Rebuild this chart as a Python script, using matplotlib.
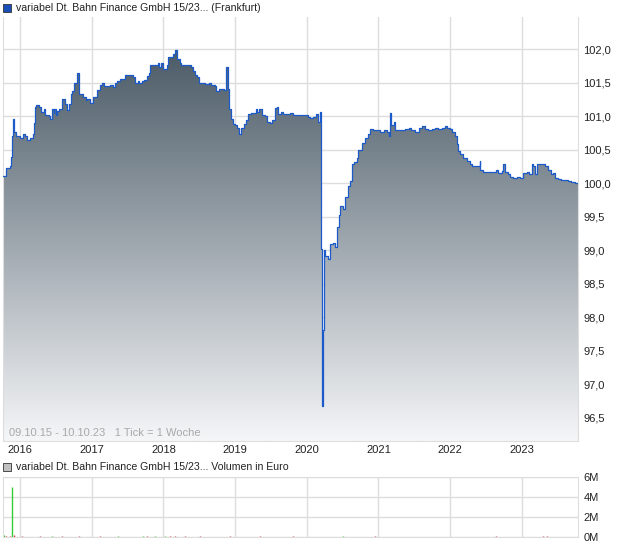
import numpy as np
import matplotlib
matplotlib.use("Agg")
import matplotlib.pyplot as plt
from matplotlib.colors import LinearSegmentedColormap
from matplotlib.patches import Rectangle

plt.rcParams["font.family"] = ["Liberation Sans", "DejaVu Sans"]
plt.rcParams["font.size"] = 8

# weekly close prices (decimal year, price)
years = [
    2015.77, 2015.81, 2015.86, 2015.87, 2015.89, 2015.90, 2015.92, 2015.95,
    2016.00, 2016.04, 2016.07, 2016.10, 2016.14, 2016.18, 2016.20, 2016.21,
    2016.23, 2016.27, 2016.29, 2016.33, 2016.35, 2016.40, 2016.42, 2016.44,
    2016.47, 2016.48, 2016.50, 2016.52, 2016.55, 2016.58, 2016.60, 2016.63,
    2016.66, 2016.69, 2016.71, 2016.73, 2016.75, 2016.78, 2016.80, 2016.82,
    2016.83, 2016.86, 2016.88, 2016.92, 2016.94, 2016.97, 2017.00, 2017.02,
    2017.07, 2017.12, 2017.14, 2017.17, 2017.21, 2017.26, 2017.30, 2017.33,
    2017.36, 2017.39, 2017.43, 2017.47, 2017.51, 2017.56, 2017.58, 2017.61,
    2017.64, 2017.66, 2017.70, 2017.73, 2017.77, 2017.80, 2017.82, 2017.86,
    2017.90, 2017.92, 2017.94, 2017.96, 2017.99, 2018.02, 2018.05, 2018.07,
    2018.10, 2018.13, 2018.14, 2018.16, 2018.19, 2018.21, 2018.23, 2018.25,
    2018.29, 2018.32, 2018.36, 2018.39, 2018.42, 2018.44, 2018.47, 2018.50,
    2018.53, 2018.58, 2018.63, 2018.67, 2018.72, 2018.74, 2018.77, 2018.80,
    2018.84, 2018.87, 2018.88, 2018.90, 2018.91, 2018.94, 2018.97, 2019.00,
    2019.03, 2019.06, 2019.08, 2019.12, 2019.15, 2019.18, 2019.22, 2019.25,
    2019.29, 2019.31, 2019.34, 2019.37, 2019.42, 2019.45, 2019.49, 2019.52,
    2019.56, 2019.58, 2019.60, 2019.64, 2019.67, 2019.72, 2019.76, 2019.81,
    2019.88, 2019.95, 2020.02, 2020.05, 2020.09, 2020.13, 2020.16, 2020.18,
    2020.19, 2020.20, 2020.21, 2020.225, 2020.23, 2020.24, 2020.26, 2020.30,
    2020.32, 2020.37, 2020.39, 2020.42, 2020.45, 2020.47, 2020.51, 2020.53,
    2020.57, 2020.60, 2020.63, 2020.66, 2020.70, 2020.72, 2020.77, 2020.81,
    2020.86, 2020.88, 2020.93, 2020.97, 2021.02, 2021.07, 2021.12, 2021.14,
    2021.16, 2021.18, 2021.21, 2021.23, 2021.28, 2021.32, 2021.37, 2021.42,
    2021.46, 2021.51, 2021.56, 2021.60, 2021.65, 2021.69, 2021.74, 2021.79,
    2021.83, 2021.88, 2021.93, 2021.96, 2022.00, 2022.03, 2022.07, 2022.09,
    2022.11, 2022.14, 2022.18, 2022.23, 2022.28, 2022.31, 2022.35, 2022.38,
    2022.41, 2022.42, 2022.46, 2022.51, 2022.56, 2022.60, 2022.64, 2022.67,
    2022.72, 2022.74, 2022.76, 2022.80, 2022.83, 2022.88, 2022.93, 2022.97,
    2023.02, 2023.07, 2023.10, 2023.14, 2023.16, 2023.18, 2023.21, 2023.24,
    2023.28, 2023.32, 2023.37, 2023.40, 2023.43, 2023.46, 2023.51, 2023.55,
    2023.60, 2023.65, 2023.69, 2023.74, 2023.78,
]
prices = [
    100.10, 100.23, 100.25, 100.39, 100.71, 100.95, 100.76, 100.71,
    100.67, 100.74, 100.71, 100.64, 100.67, 100.73, 100.89, 101.14,
    101.17, 101.14, 101.06, 101.11, 101.02, 101.00, 100.95, 101.11,
    101.05, 101.11, 101.01, 101.07, 101.11, 101.26, 101.26, 101.18,
    101.09, 101.18, 101.33, 101.38, 101.49, 101.50, 101.65, 101.49,
    101.33, 101.33, 101.29, 101.24, 101.26, 101.20, 101.20, 101.29,
    101.39, 101.47, 101.49, 101.45, 101.45, 101.47, 101.44, 101.49,
    101.53, 101.56, 101.56, 101.62, 101.62, 101.62, 101.59, 101.49,
    101.53, 101.49, 101.52, 101.54, 101.60, 101.65, 101.76, 101.76,
    101.76, 101.79, 101.73, 101.80, 101.70, 101.70, 101.76, 101.88,
    101.88, 101.91, 101.93, 101.98, 101.86, 101.85, 101.79, 101.76,
    101.76, 101.76, 101.76, 101.74, 101.67, 101.62, 101.58, 101.50,
    101.49, 101.48, 101.49, 101.47, 101.45, 101.38, 101.41, 101.41,
    101.39, 101.39, 101.74, 101.41, 101.11, 100.95, 100.88, 100.86,
    100.82, 100.73, 100.82, 100.88, 100.94, 101.03, 101.05, 101.05,
    101.11, 101.06, 101.11, 101.01, 101.00, 100.91, 100.89, 100.94,
    101.12, 101.14, 101.03, 101.06, 101.03, 101.03, 101.05, 101.02,
    101.02, 101.01, 100.98, 100.97, 100.98, 101.03, 100.91, 101.02,
    101.06, 99.02, 96.68, 96.68, 97.80, 99.00, 98.91, 98.86,
    99.09, 99.10, 99.05, 99.35, 99.52, 99.66, 99.62, 99.80,
    99.95, 100.03, 100.28, 100.32, 100.38, 100.50, 100.60, 100.68,
    100.73, 100.81, 100.79, 100.79, 100.77, 100.79, 100.77, 100.71,
    101.04, 100.86, 100.91, 100.79, 100.79, 100.79, 100.81, 100.83,
    100.79, 100.77, 100.82, 100.85, 100.81, 100.79, 100.81, 100.83,
    100.81, 100.83, 100.85, 100.82, 100.81, 100.76, 100.71, 100.58,
    100.48, 100.43, 100.38, 100.33, 100.28, 100.25, 100.26, 100.25,
    100.33, 100.20, 100.17, 100.17, 100.17, 100.17, 100.20, 100.15,
    100.18, 100.28, 100.17, 100.14, 100.09, 100.08, 100.09, 100.08,
    100.15, 100.17, 100.14, 100.29, 100.25, 100.13, 100.29, 100.28,
    100.29, 100.25, 100.20, 100.14, 100.15, 100.08, 100.06, 100.05,
    100.04, 100.03, 100.01, 100.00, 100.00,
]

# volume in euro (decimal year, value, up/down)
vol_years = [2015.78, 2015.80, 2015.86, 2015.89, 2015.92, 2016.03, 2016.28,
             2016.45, 2016.59, 2016.82, 2017.12, 2017.37, 2017.72, 2017.77,
             2017.88, 2018.02, 2018.09, 2018.16, 2018.30, 2018.51, 2018.93,
             2019.35, 2019.81, 2020.50, 2020.95, 2022.64, 2023.29, 2023.35]
vol_values = [150e3, 120e3, 100e3, 5.0e6, 150e3, 100e3, 80e3,
              80e3, 100e3, 80e3, 80e3, 80e3, 100e3, 100e3,
              120e3, 100e3, 100e3, 100e3, 80e3, 80e3, 80e3,
              80e3, 80e3, 100e3, 80e3, 80e3, 100e3, 100e3]
vol_up = [True, False, False, True, False, False, False,
          True, False, False, False, True, True, False,
          True, True, False, False, False, False, False,
          False, False, True, False, False, False, False]

year_ticks = [2016, 2017, 2018, 2019, 2020, 2021, 2022, 2023]
price_ticks = [96.5, 97.0, 97.5, 98.0, 98.5, 99.0, 99.5, 100.0, 100.5,
               101.0, 101.5, 102.0]
vol_ticks = [0, 2e6, 4e6, 6e6]

x_min, x_max = 2015.763, 2023.782
y_min, y_max = 96.15, 102.48
grid_col = "#dddddd"
line_col = "#1b5ac8"

fig = plt.figure(figsize=(6.2, 5.46), dpi=100)
ax = fig.add_axes([0.0048, 0.1923, 0.9274, 0.7766])
axv = fig.add_axes([0.0048, 0.0165, 0.9274, 0.1099])

# price panel
poly = ax.fill_between(years, prices, y_min, step="post",
                       facecolor="none", edgecolor="none")
cmap = LinearSegmentedColormap.from_list("g", ["#f5f6f8", "#4b5b67"])
grad = np.linspace(1, 0, 256).reshape(-1, 1)
img = ax.imshow(grad, extent=[x_min, x_max, y_min, 102.0], aspect="auto",
                cmap=cmap, origin="upper", zorder=1, vmin=0, vmax=1)
img.set_clip_path(poly.get_paths()[0], transform=ax.transData)
ax.plot(years, prices, drawstyle="steps-post", color=line_col, lw=0.9, zorder=3)

ax.set_xlim(x_min, x_max)
ax.set_ylim(y_min, y_max)
ax.set_xticks(year_ticks)
ax.set_xticklabels([str(y) for y in year_ticks], color="#222222")
ax.set_yticks(price_ticks)
ax.set_yticklabels([f"{p:.1f}".replace(".", ",") for p in price_ticks],
                   color="#222222")
ax.yaxis.tick_right()
ax.tick_params(length=0, pad=4)
ax.tick_params(axis="x", pad=3)
ax.grid(True, color=grid_col, lw=1, zorder=0)
ax.set_axisbelow(True)
for s in ["left", "right", "bottom"]:
    ax.spines[s].set_color(grid_col)
ax.spines["top"].set_visible(False)
ax.text(0.01, 0.008, "09.10.15 - 10.10.23   1 Tick = 1 Woche",
        transform=ax.transAxes, color="#a9a9a9", fontsize=8, va="bottom")

# volume panel
axv.vlines(vol_years, 0, vol_values, lw=1,
           colors=["#33cc33" if u else "#e03a3a" for u in vol_up])
axv.set_xlim(x_min, x_max)
axv.set_ylim(0, 6e6)
axv.set_xticks(year_ticks)
axv.set_xticklabels([])
axv.set_yticks(vol_ticks)
axv.set_yticklabels(["0M", "2M", "4M", "6M"], color="#222222")
axv.yaxis.tick_right()
axv.tick_params(length=0, pad=4)
axv.grid(True, color=grid_col, lw=1, zorder=0)
axv.set_axisbelow(True)
for s in ["left", "right", "bottom", "top"]:
    axv.spines[s].set_color(grid_col)

# legend headers
fig.patches.append(Rectangle((3 / 620, 1 - 12 / 546), 8 / 620, 8 / 546,
                             transform=fig.transFigure, facecolor="#1b4fb8",
                             edgecolor="#333333", lw=0.6))
fig.text(16 / 620, 1 - 8 / 546,
         "variabel Dt. Bahn Finance GmbH 15/23... (Frankfurt)",
         va="center", ha="left", color="#222222", fontsize=7.6)
fig.patches.append(Rectangle((3 / 620, 1 - 471 / 546), 8 / 620, 8 / 546,
                             transform=fig.transFigure, facecolor="#c0c0c0",
                             edgecolor="#333333", lw=0.6))
fig.text(16 / 620, 1 - 467 / 546,
         "variabel Dt. Bahn Finance GmbH 15/23... Volumen in Euro",
         va="center", ha="left", color="#222222", fontsize=7.6)

fig.savefig("out.png", dpi=100)
